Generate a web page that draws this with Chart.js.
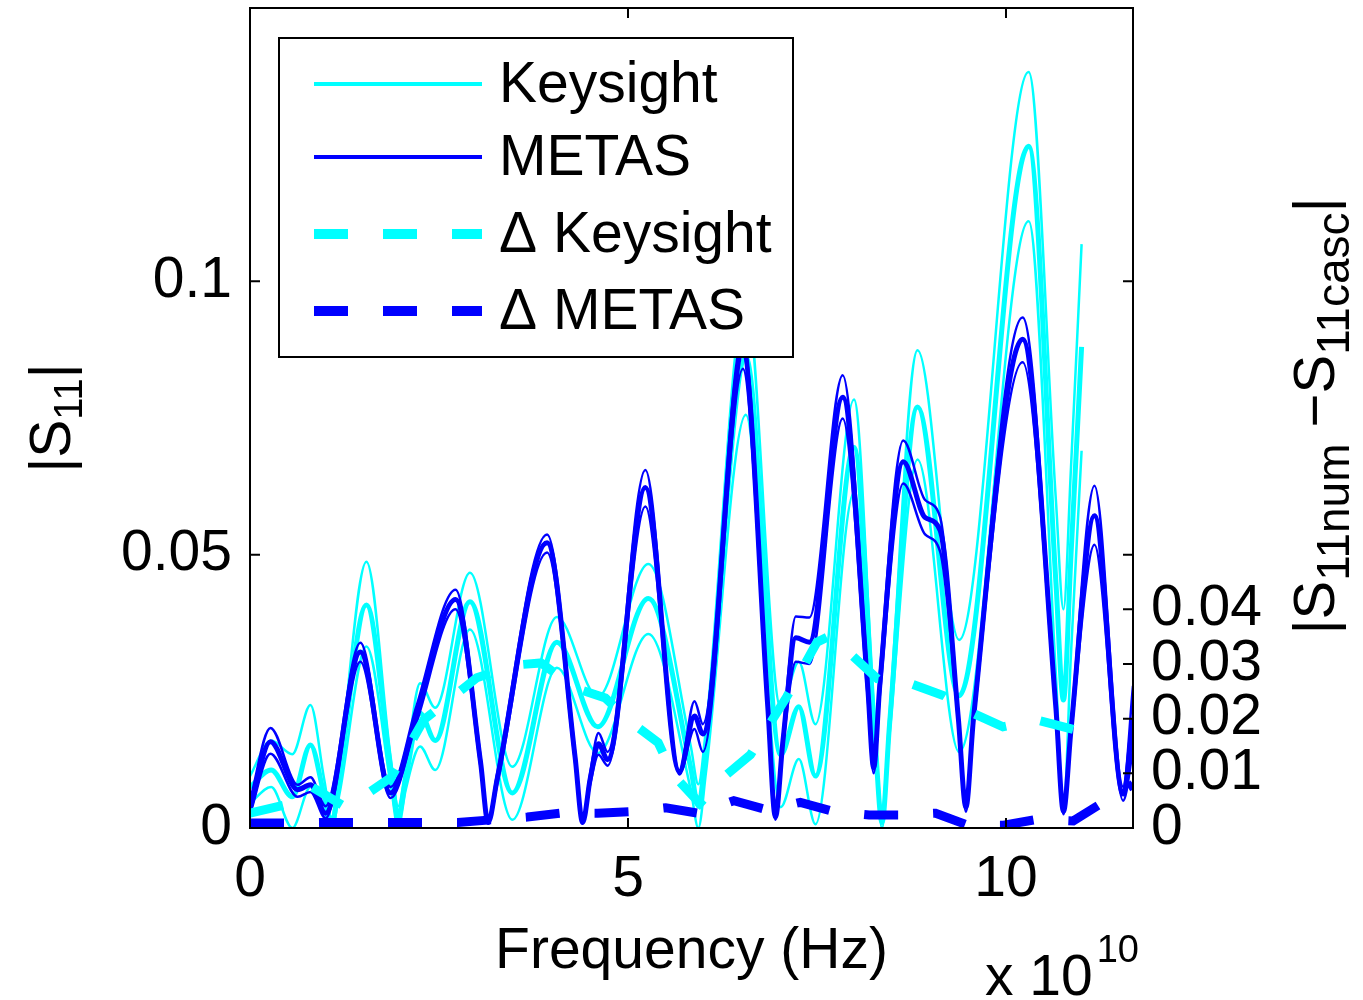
<!DOCTYPE html>
<html>
<head>
<meta charset="utf-8">
<title>|S11| Keysight vs METAS</title>
<script src="https://cdn.jsdelivr.net/npm/chart.js@4.4.1/dist/chart.umd.min.js"></script>
<style>
  html, body { margin: 0; padding: 0; background: #fff; }
  #wrap { width: 1363px; height: 1000px; position: relative; }
</style>
</head>
<body>
<div id="wrap"><canvas id="s11Chart"></canvas></div>
<script>
// frequency axis is in units of 1e10 Hz (MATLAB "x 10^10" multiplier)
const xTicks = [0, 5, 10];
const yTicksLeft = [0, 0.05, 0.1];
const yTicksRight = [0, 0.01, 0.02, 0.03, 0.04];

// Keysight |S11| : nominal (thick) and upper / lower bound (thin)
const keyFreq = [0, 0.28, 0.56, 0.8, 0.98, 1.08, 1.18, 1.54, 1.86, 1.96, 2.06, 2.25, 2.45, 2.91, 3.47, 4.06, 4.6, 5.27, 5.83, 5.93, 6.03, 6.56, 7.02, 7.26, 7.48, 7.99, 8.26, 8.36, 8.46, 8.83, 9.38, 10.3, 10.66, 10.76, 10.86, 11.0];
const keyMid  = [0.0075, 0.0106, 0.0057, 0.0152, 0.006, 0.0005, 0.009, 0.0408, 0.011, 0.002, 0.009, 0.021, 0.016, 0.0414, 0.0064, 0.034, 0.0185, 0.042, 0.011, 0.004, 0.014, 0.086, 0.0134, 0.0222, 0.0095, 0.0696, 0.018, 0.001, 0.019, 0.077, 0.0242, 0.1247, 0.045, 0.0234, 0.05, 0.088];
const keyHigh = [0.0095, 0.016, 0.0135, 0.0225, 0.009, 0.002, 0.011, 0.0487, 0.013, 0.004, 0.011, 0.0265, 0.022, 0.0467, 0.0112, 0.0386, 0.024, 0.0483, 0.015, 0.008, 0.018, 0.097, 0.022, 0.0304, 0.019, 0.0784, 0.02, 0.003, 0.021, 0.0874, 0.0344, 0.1383, 0.06, 0.040, 0.066, 0.1068];
const keyLow  = [0.0045, 0.0075, 0.0, 0.0075, 0.003, 0.0, 0.006, 0.0332, 0.008, 0.0, 0.007, 0.0149, 0.0106, 0.0363, 0.0015, 0.0293, 0.0137, 0.0355, 0.007, 0.0, 0.01, 0.0756, 0.0038, 0.0126, 0.0007, 0.0614, 0.016, 0.0, 0.017, 0.0674, 0.0139, 0.111, 0.028, 0.0035, 0.032, 0.069];

// METAS |S11| : nominal (thick) and upper / lower bound (thin)
const metasFreq = [0, 0.27, 0.63, 0.8, 1.0, 1.46, 1.86, 2.2, 2.72, 3.05, 3.15, 3.27, 3.93, 4.3, 4.4, 4.5, 4.61, 4.73, 5.23, 5.68, 5.88, 5.99, 6.52, 6.85, 6.95, 7.05, 7.22, 7.4, 7.84, 8.17, 8.25, 8.33, 8.64, 8.93, 9.13, 9.37, 9.47, 9.57, 10.22, 10.66, 10.76, 10.86, 11.17, 11.55, 11.68];
const metasMid  = [0.0035, 0.0158, 0.007, 0.0079, 0.0027, 0.0322, 0.0064, 0.0205, 0.0418, 0.012, 0.001, 0.009, 0.0522, 0.013, 0.001, 0.009, 0.0154, 0.0125, 0.0623, 0.0103, 0.0205, 0.0172, 0.087, 0.022, 0.002, 0.016, 0.0348, 0.034, 0.0788, 0.026, 0.011, 0.026, 0.067, 0.0568, 0.0544, 0.02, 0.0038, 0.02, 0.0894, 0.022, 0.003, 0.018, 0.0571, 0.0062, 0.02];
const metasHigh = [0.005, 0.0183, 0.0079, 0.0093, 0.004, 0.0339, 0.0075, 0.0222, 0.0436, 0.013, 0.0015, 0.010, 0.0537, 0.014, 0.0015, 0.010, 0.0174, 0.0139, 0.0655, 0.0105, 0.0232, 0.019, 0.090, 0.023, 0.0025, 0.017, 0.0387, 0.0385, 0.0828, 0.028, 0.012, 0.028, 0.0709, 0.060, 0.0568, 0.021, 0.0045, 0.021, 0.0934, 0.023, 0.0035, 0.019, 0.0626, 0.0075, 0.026];
const metasLow  = [0.0025, 0.0136, 0.0057, 0.0066, 0.0018, 0.0304, 0.0055, 0.0192, 0.040, 0.011, 0.0008, 0.008, 0.0504, 0.012, 0.0008, 0.008, 0.0134, 0.0114, 0.0588, 0.0098, 0.0181, 0.0139, 0.084, 0.021, 0.0015, 0.015, 0.0304, 0.030, 0.0749, 0.024, 0.010, 0.024, 0.063, 0.0537, 0.0505, 0.019, 0.003, 0.019, 0.0852, 0.021, 0.0025, 0.017, 0.0518, 0.005, 0.0143];

// |S11num - S11casc| (right axis)
const dKeyFreq = [0, 0.45, 0.82, 1.28, 1.87, 2.3, 3.0, 3.5, 3.85, 4.3, 4.7, 5.0, 5.4, 5.6, 5.95, 6.3, 6.62, 7.1, 7.5, 7.68, 8.3, 8.74, 9.18, 9.56, 9.96, 10.4, 10.9];
const dKeyVal  = [0.0027, 0.0042, 0.0075, 0.0037, 0.0093, 0.0198, 0.0275, 0.0298, 0.0302, 0.0256, 0.0238, 0.0198, 0.0156, 0.0097, 0.0045, 0.0097, 0.0134, 0.024, 0.034, 0.0352, 0.0273, 0.0264, 0.0242, 0.021, 0.0185, 0.0198, 0.018];
const dMetasFreq = [0, 0.46, 0.93, 1.39, 1.83, 2.29, 2.75, 3.2, 3.67, 4.1, 4.6, 5.03, 5.5, 5.93, 6.4, 6.85, 7.28, 7.72, 8.19, 8.6, 9.07, 9.5, 9.97, 10.42, 10.89, 11.32, 11.68];
const dMetasVal  = [0.0009, 0.0009, 0.001, 0.001, 0.001, 0.001, 0.001, 0.0015, 0.002, 0.0027, 0.0027, 0.003, 0.0037, 0.0027, 0.005, 0.0033, 0.0047, 0.003, 0.0024, 0.0024, 0.0027, 0.0005, 0.0005, 0.0016, 0.0013, 0.005, 0.008];

const CYAN = '#00ffff';
const BLUE = '#0000ff';
const FONT = "'Liberation Sans', Arial, Helvetica, sans-serif";
const DASH = [34, 35];

Chart.defaults.font.family = FONT;
Chart.defaults.color = '#000';

function toPoints(xs, ys) {
  return xs.map((x, i) => ({ x: x, y: ys[i] }));
}

function solidLine(label, xs, ys, color, width, order, legend) {
  return {
    label: label,
    data: toPoints(xs, ys),
    borderColor: color,
    borderWidth: width,
    pointRadius: 0,
    fill: false,
    cubicInterpolationMode: 'monotone',
    order: order,
    yAxisID: 'y',
    legendWidth: legend ? 4 : 0
  };
}

function dashedLine(label, xs, ys, color, order) {
  return {
    label: label,
    data: toPoints(xs, ys),
    borderColor: color,
    borderWidth: 9,
    borderDash: DASH,
    pointRadius: 0,
    fill: false,
    tension: 0,
    order: order,
    yAxisID: 'y2',
    legendWidth: 10
  };
}

// MATLAB style box, inward ticks, legend and axis titles
const matlabLook = {
  id: 'matlabLook',
  afterDatasetsDraw(chart) {
    const ctx = chart.ctx;
    const a = chart.chartArea;
    const sx = chart.scales.x, sy = chart.scales.y, sy2 = chart.scales.y2;
    ctx.save();

    // legend
    const box = { left: 279, top: 38, width: 514, height: 319 };
    ctx.fillStyle = '#fff';
    ctx.fillRect(box.left, box.top, box.width, box.height);
    ctx.strokeStyle = '#000';
    ctx.lineWidth = 2;
    ctx.strokeRect(box.left, box.top, box.width, box.height);
    const rows = [84, 157, 234, 311];
    const entries = chart.data.datasets.filter(d => d.legendWidth > 0);
    entries.forEach((d, i) => {
      const yy = rows[i];
      ctx.beginPath();
      ctx.setLineDash(d.borderDash || []);
      ctx.strokeStyle = d.borderColor;
      ctx.lineWidth = d.legendWidth;
      ctx.lineCap = 'butt';
      ctx.moveTo(314, yy);
      ctx.lineTo(482, yy);
      ctx.stroke();
      ctx.setLineDash([]);
      ctx.fillStyle = '#000';
      ctx.font = '57px ' + FONT;
      ctx.textBaseline = 'middle';
      ctx.textAlign = 'left';
      ctx.fillText(d.label, 499, yy + 2);
    });

    // frame
    ctx.strokeStyle = '#000';
    ctx.lineWidth = 2;
    ctx.strokeRect(a.left, a.top, a.right - a.left, a.bottom - a.top);

    // inward ticks
    const tl = 10;
    ctx.beginPath();
    xTicks.forEach(v => {
      const px = sx.getPixelForValue(v);
      ctx.moveTo(px, a.bottom); ctx.lineTo(px, a.bottom - tl);
      ctx.moveTo(px, a.top); ctx.lineTo(px, a.top + tl);
    });
    yTicksLeft.forEach(v => {
      const py = sy.getPixelForValue(v);
      ctx.moveTo(a.left, py); ctx.lineTo(a.left + tl, py);
      ctx.moveTo(a.right, py); ctx.lineTo(a.right - tl, py);
    });
    yTicksRight.forEach(v => {
      const py = sy2.getPixelForValue(v);
      ctx.moveTo(a.right, py); ctx.lineTo(a.right - tl, py);
    });
    ctx.stroke();
    ctx.restore();
  },
  afterDraw(chart) {
    const ctx = chart.ctx;
    const a = chart.chartArea;
    const mid = (a.top + a.bottom) / 2;
    drawRich(ctx, [{ t: 'Frequency (Hz)', size: 57 }], (a.left + a.right) / 2, 968, 0, 'center');
    drawRich(ctx, [{ t: 'x 10', size: 57 }, { t: '10', size: 38, dy: -33, dx: 4 }], 985, 995, 0, 'left');
    drawRich(ctx, [{ t: '|S', size: 57 }, { t: '11', size: 40, dy: 12 }, { t: '|', size: 57 }], 70, mid, -Math.PI / 2, 'center');
    drawRich(ctx, [
      { t: '|S', size: 58 }, { t: '11num', size: 46, dy: 15 },
      { t: ' \u2212S', size: 58 }, { t: '11casc', size: 46, dy: 15 },
      { t: '|', size: 58 }
    ], 1334, mid - 2, -Math.PI / 2, 'center');
  }
};

function drawRich(ctx, parts, cx, cy, angle, align) {
  ctx.save();
  ctx.translate(cx, cy);
  ctx.rotate(angle);
  ctx.fillStyle = '#000';
  ctx.textBaseline = 'alphabetic';
  ctx.textAlign = 'left';
  let total = 0;
  parts.forEach(p => {
    ctx.font = p.size + 'px ' + FONT;
    p.w = ctx.measureText(p.t).width + (p.dx || 0);
    total += p.w;
  });
  let x = align === 'center' ? -total / 2 : 0;
  parts.forEach(p => {
    ctx.font = p.size + 'px ' + FONT;
    ctx.fillText(p.t, x + (p.dx || 0), p.dy || 0);
    x += p.w;
  });
  ctx.restore();
}

function fmt(v) {
  return String(+Number(v).toFixed(4));
}

const ctx = document.getElementById('s11Chart').getContext('2d');
new Chart(ctx, {
  type: 'line',
  data: {
    datasets: [
      solidLine('Keysight', keyFreq, keyHigh, CYAN, 2.5, 9, true),
      solidLine('Keysight low', keyFreq, keyLow, CYAN, 2.5, 9, false),
      solidLine('Keysight nominal', keyFreq, keyMid, CYAN, 5, 8, false),
      solidLine('METAS', metasFreq, metasHigh, BLUE, 2.5, 6, true),
      solidLine('METAS low', metasFreq, metasLow, BLUE, 2.5, 6, false),
      solidLine('METAS nominal', metasFreq, metasMid, BLUE, 5, 5, false),
      dashedLine('\u0394 Keysight', dKeyFreq, dKeyVal, CYAN, 2),
      dashedLine('\u0394 METAS', dMetasFreq, dMetasVal, BLUE, 1)
    ]
  },
  options: {
    responsive: true,
    maintainAspectRatio: false,
    animation: false,
    events: [],
    layout: { padding: { top: 8, left: 0, right: 0, bottom: 0 } },
    plugins: {
      legend: { display: false },
      tooltip: { enabled: false }
    },
    scales: {
      x: {
        type: 'linear',
        min: 0,
        max: 11.68,
        grid: { display: false, drawTicks: false },
        border: { display: false },
        ticks: { font: { size: 57 }, color: '#000', padding: 18, maxRotation: 0, autoSkip: false, callback: fmt },
        afterBuildTicks: s => { s.ticks = xTicks.map(v => ({ value: v })); },
        afterFit: s => { s.height = 172; s.paddingLeft = 0; s.paddingRight = 0; }
      },
      y: {
        type: 'linear',
        position: 'left',
        min: 0,
        max: 0.15,
        grid: { display: false, drawTicks: false },
        border: { display: false },
        ticks: { font: { size: 57 }, color: '#000', padding: 18, callback: fmt },
        afterBuildTicks: s => { s.ticks = yTicksLeft.map(v => ({ value: v })); },
        afterFit: s => { s.width = 250; s.paddingTop = 0; s.paddingBottom = 0; }
      },
      y2: {
        type: 'linear',
        position: 'right',
        min: 0,
        max: 0.15,
        grid: { display: false, drawTicks: false },
        border: { display: false },
        ticks: { font: { size: 57 }, color: '#000', padding: 18, callback: fmt },
        afterBuildTicks: s => { s.ticks = yTicksRight.map(v => ({ value: v })); },
        afterFit: s => { s.width = 230; s.paddingTop = 0; s.paddingBottom = 0; }
      }
    }
  },
  plugins: [matlabLook]
});
</script>
</body>
</html>
